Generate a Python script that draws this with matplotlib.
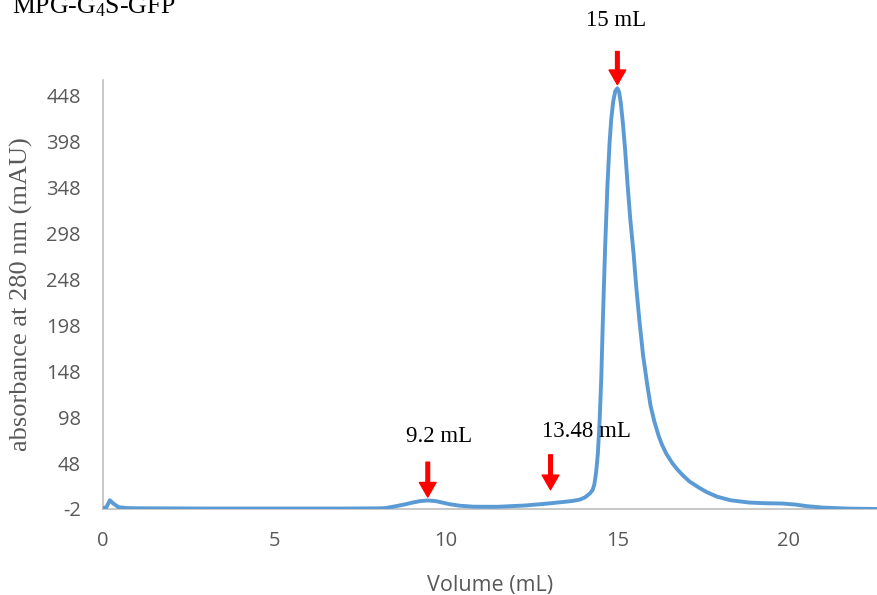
import matplotlib
matplotlib.use('Agg')
import matplotlib.pyplot as plt

plt.rcParams['mathtext.fontset'] = 'custom'
plt.rcParams['mathtext.rm'] = 'Liberation Serif'
plt.rcParams['mathtext.it'] = 'Liberation Serif:italic'
plt.rcParams['axes.unicode_minus'] = False

# chromatogram
volume = [0.0, 0.1, 0.2, 0.3, 0.45, 0.7, 1.0, 3.0, 5.0, 7.0, 8.0, 8.24, 8.5, 8.8,
          9.05, 9.25, 9.47, 9.7, 9.9, 10.1, 10.4, 10.8, 11.5, 12.3, 12.93, 13.4,
          13.7, 13.9, 14.05, 14.2, 14.28, 14.33, 14.38, 14.43, 14.48, 14.53, 14.57,
          14.64, 14.71, 14.77, 14.82, 14.88, 14.94, 15.0, 15.05, 15.1, 15.16, 15.22,
          15.3, 15.38, 15.47, 15.55, 15.64, 15.75, 15.88, 15.97, 16.08, 16.2, 16.3,
          16.43, 16.6, 16.75, 16.9, 17.1, 17.39, 17.6, 17.9, 18.3, 18.85, 19.3,
          19.8, 20.2, 20.5, 21.0, 21.76, 22.6]
absorb = [-1, 0, 7.5, 4, 0, -1, -1.2, -1.5, -1.5, -1.5, -1.3, -1, 0.8, 3,
          5.2, 6.6, 7.3, 6.6, 5, 3.3, 1.6, 0.5, 0.4, 1.8, 3.8, 5.6,
          6.8, 8.2, 10.5, 15, 19, 25, 38, 58, 92, 140, 195,
          280, 350, 395, 422, 442, 453, 456, 452, 440, 418, 392,
          350, 312, 277, 240, 204, 165, 131, 110, 93, 78, 68,
          58, 48, 41, 35, 28, 21, 16.5, 11.5, 7.5, 5, 4.3,
          4, 2.8, 1.2, -0.5, -1.6, -2]

yticks = list(range(-2, 449, 50))
xticks = [0, 5, 10, 15, 20]

# peak markers: (arrow x, tail y, tip y, label, label x, label y)
peaks = [
    (15.0, 496, 460, '15 mL', 14.97, 530),
    (9.47, 49, 11, '9.2 mL', 9.79, 77),
    (13.05, 57, 19, '13.48 mL', 14.1, 82),
]

fig = plt.figure(figsize=(8.78, 5.95), dpi=100)
ax = fig.add_axes([103 / 878, 86 / 595, 1 - 103 / 878, 429 / 595])

ax.plot(volume, absorb, color='#5B9BD5', lw=2.8, solid_joinstyle='round',
        solid_capstyle='round', zorder=3)

ax.set_xlim(0, 22.6)
ax.set_ylim(-2, 465)
ax.set_xticks(xticks)
ax.set_yticks(yticks)

for s in ['top', 'right']:
    ax.spines[s].set_visible(False)
for s in ['left', 'bottom']:
    ax.spines[s].set_color('#BFBFBF')
    ax.spines[s].set_linewidth(1.2)

ax.tick_params(length=0, labelsize=14.5, labelcolor='#595959', pad=16)
for lab in ax.get_xticklabels() + ax.get_yticklabels():
    lab.set_family('Open Sans')

ax.set_xlabel('Volume (mL)', fontsize=15.5, color='#595959', family='Open Sans')
ax.xaxis.set_label_coords(0.5, -0.155)
ax.set_ylabel('absorbance at 280 nm (mAU)', fontsize=19, color='#595959',
              family='Liberation Serif')
ax.yaxis.set_label_coords(-0.09, 0.5)

for x, y0, y1, txt, tx, ty in peaks:
    ax.annotate('', xy=(x, y1), xytext=(x, y0), annotation_clip=False,
                arrowprops=dict(facecolor='#FF0000', edgecolor='#FF0000',
                                width=2.6, headwidth=12, headlength=10.5, shrink=0))
    ax.text(tx, ty, txt, fontsize=16.5, family='Liberation Serif', color='black',
            ha='center', va='center', clip_on=False, zorder=5)

# title is cut by the top edge in the source image
fig.text(12 / 878, 1 - 13 / 595, 'MPG-G$_4$S-GFP', fontsize=18.5,
         family='Liberation Serif', ha='left', va='baseline')

fig.savefig('out.png', dpi=100)
